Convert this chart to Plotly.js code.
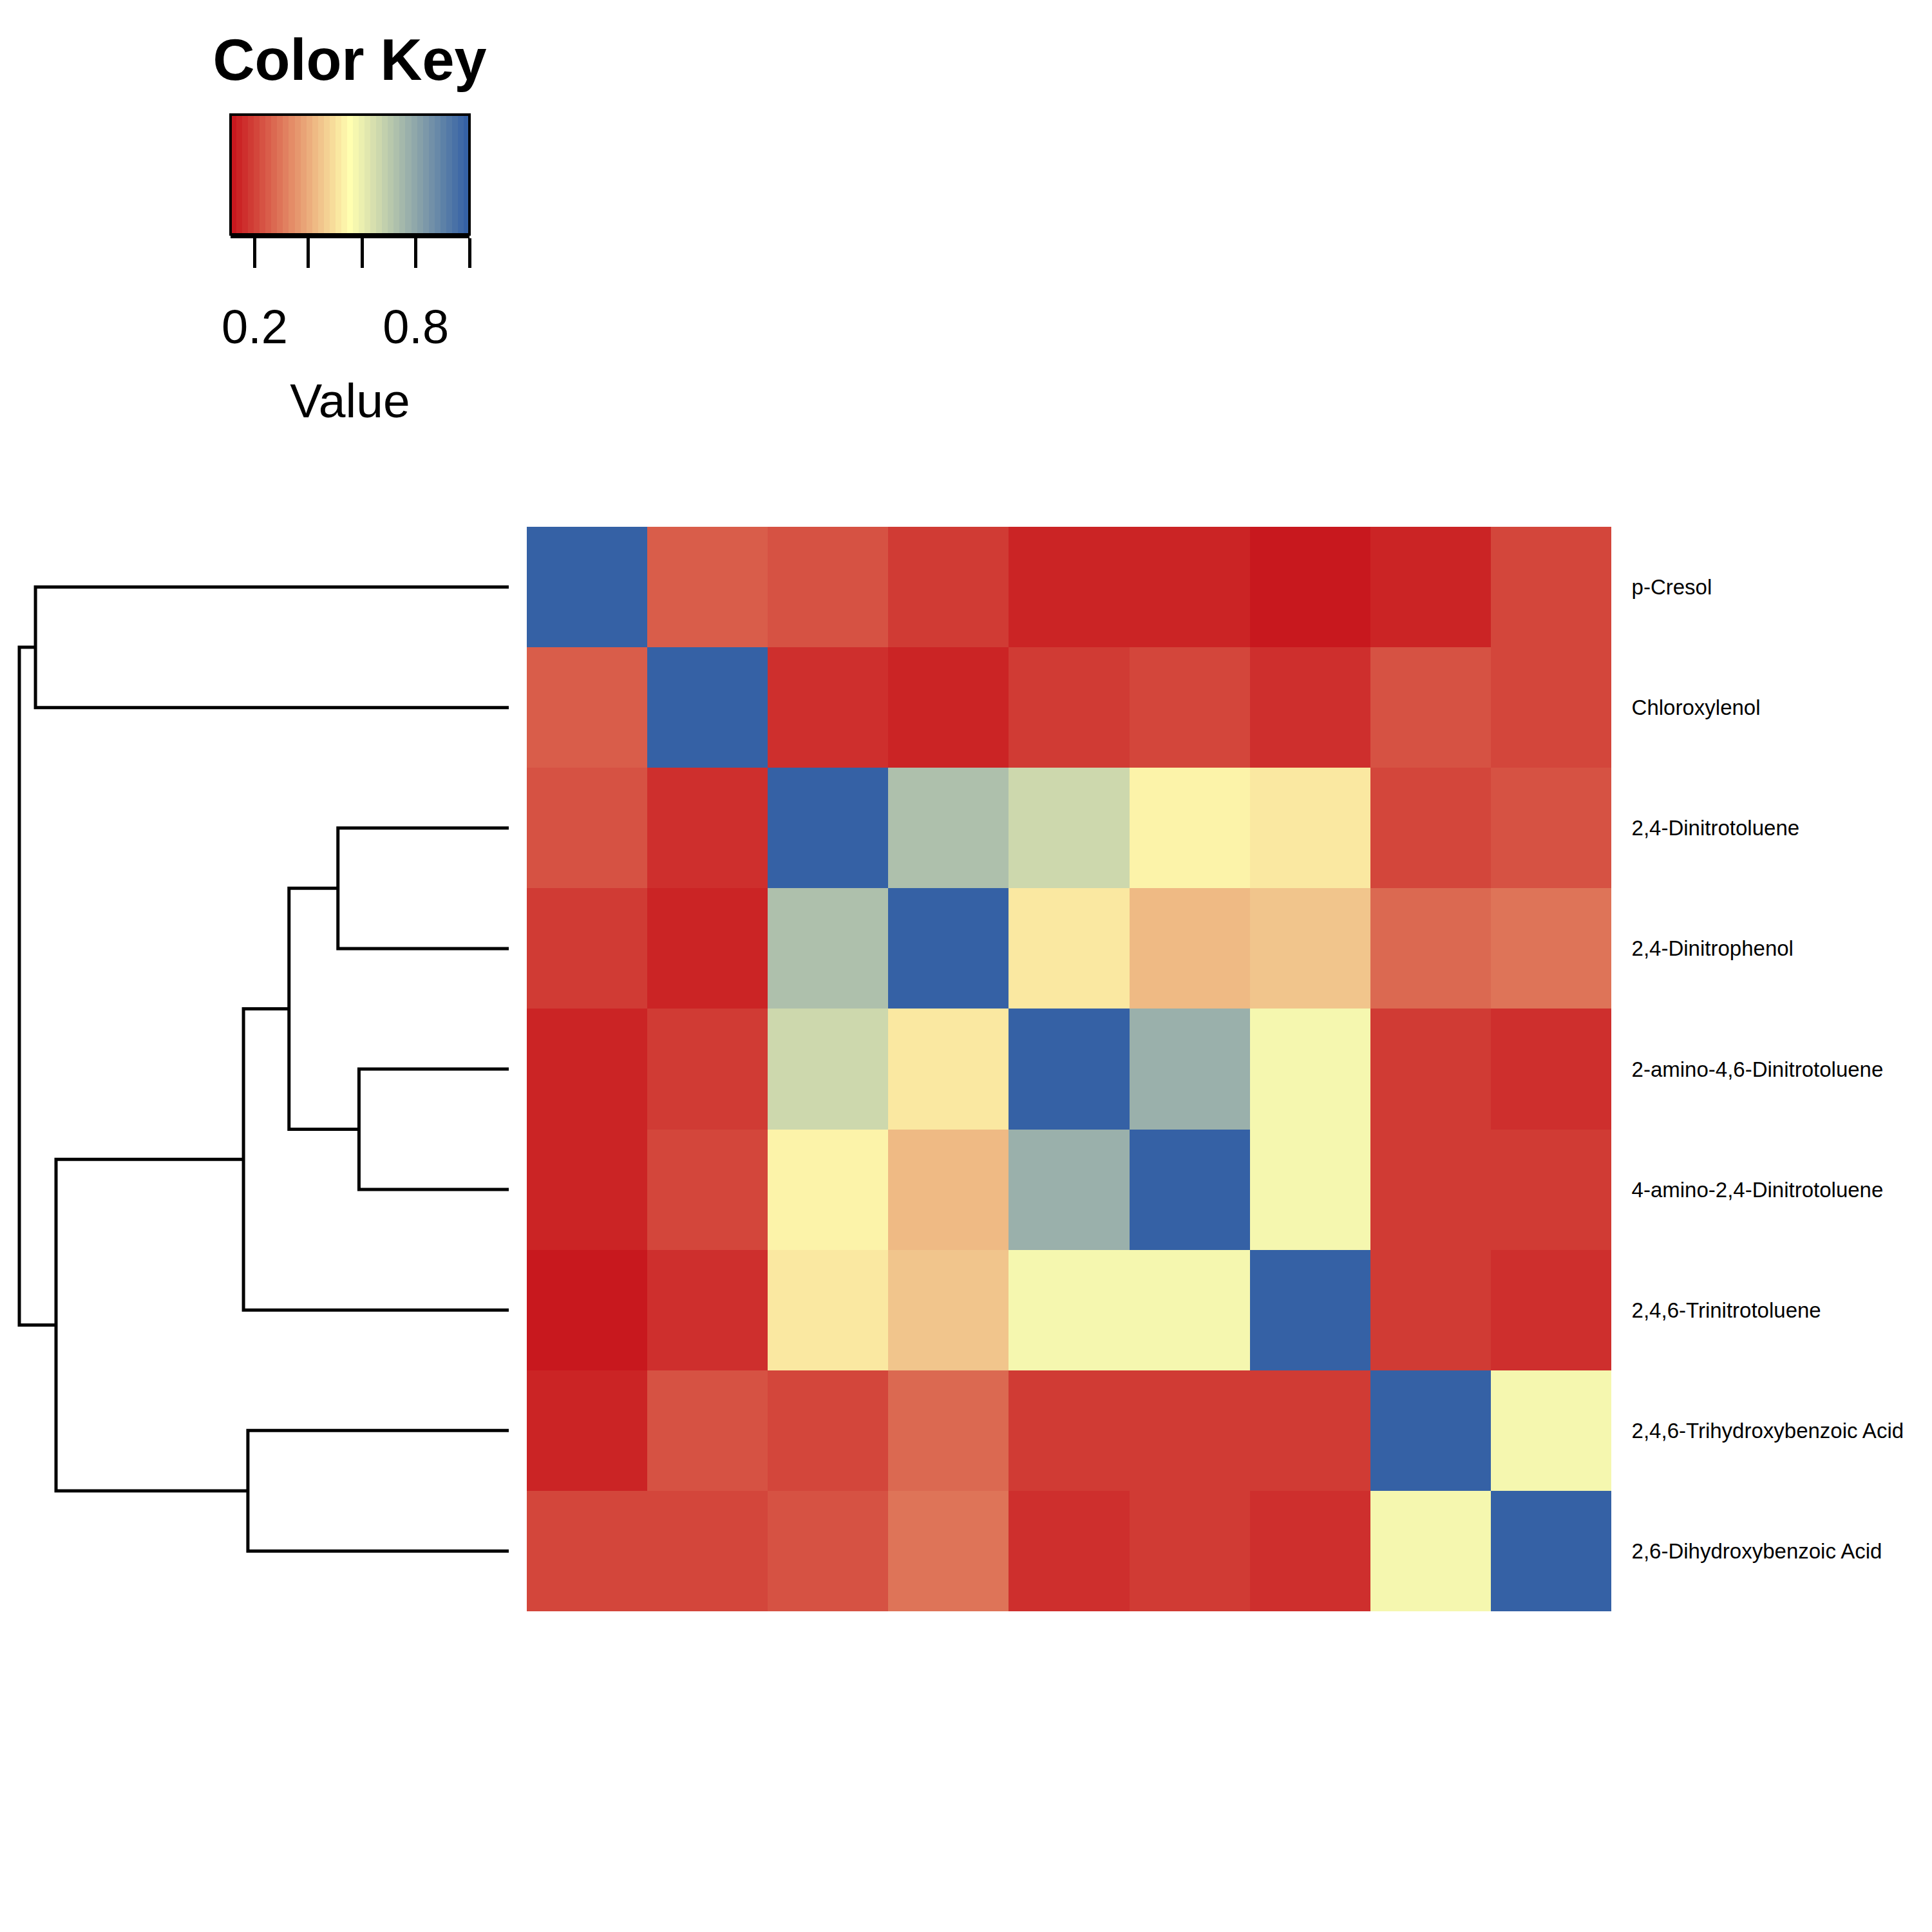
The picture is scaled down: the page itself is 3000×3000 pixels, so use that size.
<!DOCTYPE html>
<html>
<head>
<meta charset="utf-8">
<script src="https://cdn.plot.ly/plotly-3.0.1.min.js"></script>
<style>html,body{margin:0;padding:0;background:#fff;}#chart{width:3000px;height:3000px;}</style>
</head>
<body>
<div id="chart"></div>
<script>
// ---------------- data ----------------
const rowLabels = [
  "p-Cresol",
  "Chloroxylenol",
  "2,4-Dinitrotoluene",
  "2,4-Dinitrophenol",
  "2-amino-4,6-Dinitrotoluene",
  "4-amino-2,4-Dinitrotoluene",
  "2,4,6-Trinitrotoluene",
  "2,4,6-Trihydroxybenzoic Acid",
  "2,6-Dihydroxybenzoic Acid"
];
// similarity values (rows/cols in dendrogram order)
const rowPCresol   = [1.00, 0.25, 0.23, 0.19, 0.14, 0.14, 0.11, 0.14, 0.21];
const rowChloroxyl = [0.25, 1.00, 0.16, 0.14, 0.19, 0.21, 0.16, 0.23, 0.21];
const row24DNT     = [0.23, 0.16, 1.00, 0.73, 0.66, 0.53, 0.51, 0.21, 0.23];
const row24DNP     = [0.19, 0.14, 0.73, 1.00, 0.51, 0.42, 0.45, 0.27, 0.29];
const row2A46DNT   = [0.14, 0.19, 0.66, 0.51, 1.00, 0.77, 0.58, 0.19, 0.16];
const row4A24DNT   = [0.14, 0.21, 0.53, 0.42, 0.77, 1.00, 0.58, 0.19, 0.19];
const rowTNT       = [0.11, 0.16, 0.51, 0.45, 0.58, 0.58, 1.00, 0.19, 0.16];
const rowTHBA      = [0.14, 0.23, 0.21, 0.27, 0.19, 0.19, 0.19, 1.00, 0.58];
const rowDHBA      = [0.21, 0.21, 0.23, 0.29, 0.16, 0.19, 0.16, 0.58, 1.00];

// row dendrogram (hclust style: negative = leaf number in display order, positive = earlier merge)
const dendroMerges  = [[-1,-2],[-3,-4],[-5,-6],[2,3],[4,-7],[-8,-9],[5,6],[1,7]];
const dendroHeights = [0.967, 0.349, 0.306, 0.449, 0.542, 0.533, 0.925, 1.000];

// colour key ticks
const keyTickVals = [0.2, 0.4, 0.6, 0.8, 1.0];
const keyTickText = ["0.2", "", "", "0.8", ""];

// ---------------- styling / build ----------------
const FONT = "Liberation Sans, Arial, Helvetica, sans-serif";
const W = 3000, H = 3000;
const z = [rowPCresol,rowChloroxyl,row24DNT,row24DNP,row2A46DNT,row4A24DNT,rowTNT,rowTHBA,rowDHBA];
const idx = rowLabels.map((_, i) => i);
const flat = z.flat();
const zmin = Math.min(...flat), zmax = Math.max(...flat);

// 41-step palette: red -> pale yellow -> blue (linear RGB ramp)
const nCol = 41;
const cLow = [200,24,30], cMid = [255,255,176], cHigh = [53,97,165];
function ramp(i){
  const t = i/(nCol-1);
  let a, b, u;
  if (t <= 0.5){ a = cLow; b = cMid; u = t/0.5; } else { a = cMid; b = cHigh; u = (t-0.5)/0.5; }
  const c = a.map((v,k)=>Math.round(v + (b[k]-v)*u));
  return `rgb(${c[0]},${c[1]},${c[2]})`;
}
const colorscale = [];
for (let i = 0; i < nCol; i++){
  const c = ramp(i);
  colorscale.push([i/nCol, c]);
  colorscale.push([(i+1)/nCol, c]);
}

// dendrogram geometry from merges
const nodePos = [], nodeH = [];
function childInfo(m){
  if (m < 0) return {y: -m-1, h: 0};
  return {y: nodePos[m-1], h: nodeH[m-1]};
}
const dx = [], dy = [];
dendroMerges.forEach((mg, i) => {
  const a = childInfo(mg[0]), b = childInfo(mg[1]);
  const h = dendroHeights[i];
  nodePos.push((a.y + b.y)/2);
  nodeH.push(h);
  dx.push(a.h, h, h, b.h, null);
  dy.push(a.y, a.y, b.y, b.y, null);
});
const rootH = Math.max(...dendroHeights);

// pixel layout
const hmL = 818, hmR = 2502, hmT = 818, hmB = 2502;
const dDomW = 810, leafPx = 790, rootPx = 30;
const span = dDomW * rootH / (leafPx - rootPx);
const r0 = leafPx * span / dDomW, r1 = r0 - span;
const yDom = [1 - hmB/H, 1 - hmT/H];
const keyL = 358, keyR = 729, keyT = 178, keyB = 364;

const heat = {
  type: "heatmap",
  x: idx, y: idx, z: z,
  zmin: zmin, zmax: zmax,
  colorscale: colorscale,
  xgap: 0, ygap: 0,
  hoverinfo: "z",
  colorbar: {
    orientation: "h",
    x: (keyL + keyR) / 2 / W, xanchor: "center",
    y: 1 - keyT / H, yanchor: "top",
    len: keyR - keyL, lenmode: "pixels",
    thickness: keyB - keyT, thicknessmode: "pixels",
    xpad: 0, ypad: 0,
    outlinewidth: 4, outlinecolor: "#000",
    borderwidth: 0,
    ticks: "", showticklabels: false,
    title: {text: ""}
  }
};

const tree = {
  type: "scatter", mode: "lines",
  x: dx, y: dy,
  xaxis: "x2", yaxis: "y2",
  line: {color: "#000", width: 5},
  hoverinfo: "skip", showlegend: false, connectgaps: false
};

// invisible trace so the colour-key axis is drawn
const keyAxisTrace = {
  type: "scatter", mode: "markers", x: [zmin, zmax], y: [0.5, 0.5],
  xaxis: "x3", yaxis: "y3", marker: {size: 1, color: "rgba(0,0,0,0)"},
  hoverinfo: "skip", showlegend: false
};

const layout = {
  width: W, height: H,
  margin: {l: 0, r: 0, t: 0, b: 0, pad: 0},
  paper_bgcolor: "#fff", plot_bgcolor: "rgba(0,0,0,0)",
  showlegend: false,
  font: {family: FONT, color: "#000"},
  title: {
    text: "<b>Color Key</b>",
    font: {family: FONT, size: 90, color: "#000"},
    x: 543 / W, xanchor: "center", xref: "paper",
    y: 1 - 92 / H, yanchor: "middle", yref: "paper"
  },
  xaxis: {
    domain: [hmL / W, hmR / W], range: [-0.5, rowLabels.length - 0.5],
    showgrid: false, zeroline: false, showline: false, showticklabels: false, ticks: "", fixedrange: true
  },
  yaxis: {
    domain: yDom, range: [rowLabels.length - 0.5, -0.5],
    side: "right", showgrid: false, zeroline: false, showline: false,
    tickmode: "array", tickvals: idx, ticktext: rowLabels,
    ticks: "outside", ticklen: 24, tickcolor: "rgba(0,0,0,0)",
    tickfont: {family: FONT, size: 33, color: "#000"},
    automargin: false, fixedrange: true
  },
  xaxis2: {
    domain: [0, dDomW / W], range: [r0, r1], anchor: "y2",
    showgrid: false, zeroline: false, showline: false, showticklabels: false, ticks: "", fixedrange: true
  },
  yaxis2: {
    domain: yDom, range: [rowLabels.length - 0.5, -0.5], anchor: "x2",
    showgrid: false, zeroline: false, showline: false, showticklabels: false, ticks: "", fixedrange: true
  },
  xaxis3: {
    domain: [keyL / W, keyR / W], range: [zmin, zmax], anchor: "y3", side: "bottom",
    showgrid: false, zeroline: false,
    showline: true, linewidth: 6, linecolor: "#000",
    tickmode: "array", tickvals: keyTickVals, ticktext: keyTickText,
    ticks: "outside", ticklen: 46, tickwidth: 5, tickcolor: "#000",
    ticklabelstandoff: 28,
    tickfont: {family: FONT, size: 74, color: "#000"},
    title: {text: "Value", font: {family: FONT, size: 75, color: "#000"}, standoff: 50},
    automargin: false, fixedrange: true
  },
  yaxis3: {
    domain: [1 - keyB / H, 1 - keyT / H], range: [0, 1], anchor: "x3",
    showgrid: false, zeroline: false, showline: false, showticklabels: false, ticks: "", fixedrange: true
  }
};

Plotly.newPlot("chart", [heat, tree, keyAxisTrace], layout, {displayModeBar: false, staticPlot: true});
</script>
</body>
</html>
